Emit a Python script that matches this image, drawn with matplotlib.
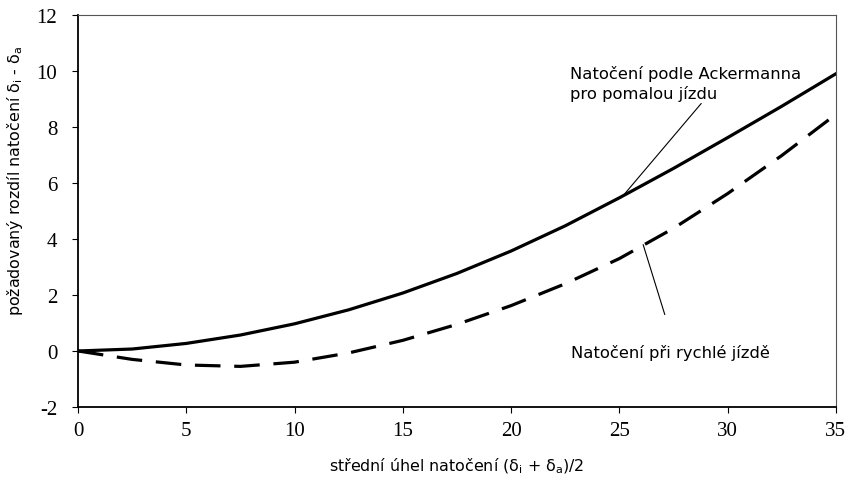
import matplotlib
matplotlib.use("Agg")
import matplotlib.pyplot as plt

x_vals = [0, 2.5, 5, 7.5, 10, 12.5, 15, 17.5, 20, 22.5, 25, 27.5, 30, 32.5, 35]
ackermann = [0, 0.07, 0.27, 0.57, 0.97, 1.47, 2.07, 2.77, 3.57, 4.47, 5.47, 6.52, 7.62, 8.74, 9.9]
fast = [0, -0.3, -0.5, -0.55, -0.4, -0.07, 0.38, 0.95, 1.62, 2.4, 3.3, 4.38, 5.62, 6.98, 8.45]

x_ticks = [0, 5, 10, 15, 20, 25, 30, 35]
y_ticks = [-2, 0, 2, 4, 6, 8, 10, 12]
x_tick_labels = ['0', '5', '10', '15', '20', '25', '30', '35']
y_tick_labels = ['-2', '0', '2', '4', '6', '8', '10', '12']

plt.rcParams['mathtext.default'] = 'regular'

fig = plt.figure(figsize=(8.46, 4.85), dpi=100)
ax = fig.add_axes([0.0922, 0.1588, 0.8958, 0.8082])

ax.plot(x_vals, ackermann, color='black', lw=2.3, solid_joinstyle='round')
ax.plot(x_vals, fast, color='black', lw=2.3, dashes=(8, 4.3), dash_joinstyle='round')

ax.set_xlim(0, 35)
ax.set_ylim(-2, 12)
ax.set_xticks(x_ticks, x_tick_labels)
ax.set_yticks(y_ticks, y_tick_labels)
ax.tick_params(axis='both', direction='out', length=4, width=0.8,
               labelfontfamily='Liberation Serif', labelsize=15)
ax.tick_params(axis='x', pad=6)
ax.tick_params(axis='y', pad=11)

for s in ['left', 'bottom']:
    ax.spines[s].set_linewidth(1.3)
for s in ['top', 'right']:
    ax.spines[s].set_linewidth(0.8)
    ax.spines[s].set_color('#555555')

ax.set_xlabel('střední úhel natočení ($δ_i$ + $δ_a$)/2', fontfamily='DejaVu Sans', fontsize=11.4)
ax.xaxis.set_label_coords(0.5, -0.125)
ax.set_ylabel('požadovaný rozdíl natočení $δ_i$ - $δ_a$', fontfamily='DejaVu Sans', fontsize=11.4)
ax.yaxis.set_label_coords(-0.07, 0.58)

ax.annotate('Natočení podle Ackermanna\npro pomalou jízdu', xy=(25.2, 5.57), xytext=(22.7, 9.58),
            fontsize=11.8, fontfamily='DejaVu Sans', ha='left', va='center', linespacing=1.3,
            arrowprops=dict(arrowstyle='-', lw=0.8, color='black', shrinkA=0, shrinkB=0,
                            relpos=(0.58, 0.0)))
ax.annotate('', xy=(26.1, 3.8), xytext=(27.1, 1.3),
            arrowprops=dict(arrowstyle='-', lw=0.8, color='black', shrinkA=0, shrinkB=0))
ax.text(22.75, -0.03, 'Natočení při rychlé jízdě', fontsize=11.8, fontfamily='DejaVu Sans',
        ha='left', va='center')

fig.savefig('out.png', dpi=100)
